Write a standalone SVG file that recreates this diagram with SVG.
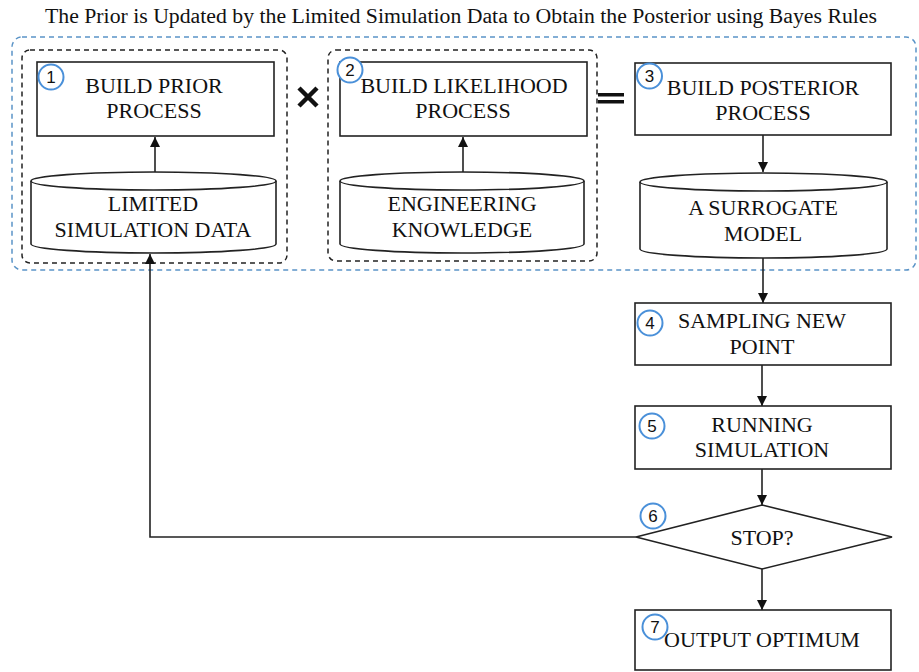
<svg xmlns="http://www.w3.org/2000/svg" width="919" height="672" viewBox="0 0 919 672">
  <style>
    .t { font-family: "Liberation Serif", "Times New Roman", serif; font-size: 22px; fill: #111; text-anchor: middle; }
    .title { font-family: "Liberation Serif", "Times New Roman", serif; font-size: 20px; fill: #111; text-anchor: middle; }
    .box { fill: #fff; stroke: #222; stroke-width: 1.6; }
    .num { fill: #fff; stroke: #4a90d9; stroke-width: 2; }
    .numt { font-family: "Liberation Sans", Arial, sans-serif; font-size: 17px; fill: #111; text-anchor: middle; }
    .grp { fill: none; stroke: #222; stroke-width: 1.5; stroke-dasharray: 5 4; }
    .outer { fill: none; stroke: #5b94c7; stroke-width: 1.5; stroke-dasharray: 5 4; }
    .edge { fill: none; stroke: #222; stroke-width: 1.6; }
  </style>
  <defs>
    <marker id="arr" viewBox="0 0 10 10" refX="10" refY="5" markerWidth="10" markerHeight="10" markerUnits="userSpaceOnUse" orient="auto">
      <path d="M0,0 L10,5 L0,10 z" fill="#111"/>
    </marker>
  </defs>

  <rect width="919" height="672" fill="#fff"/>

  <text class="title" x="461" y="23" textLength="832" lengthAdjust="spacingAndGlyphs">The Prior is Updated by the Limited Simulation Data to Obtain the Posterior using Bayes Rules</text>

  <!-- grouping frames -->
  <g id="frames">
    <rect class="outer" x="12" y="37" width="904" height="233" rx="10"/>
    <rect class="grp" x="22" y="50" width="265" height="213" rx="8"/>
    <rect class="grp" x="328" y="50" width="269" height="211" rx="8"/>
  </g>

  <!-- operators: product and equality -->
  <g id="times">
    <path d="M299,88 L317,106 M317,88 L299,106" stroke="#111" stroke-width="4.5" stroke-linecap="butt" fill="none"/>
  </g>
  <g id="equals">
    <rect x="598" y="93" width="26" height="3.5" fill="#111"/>
    <rect x="598" y="100" width="26" height="3.5" fill="#111"/>
  </g>

  <!-- connectors -->
  <g id="connectors">
    <line class="edge" x1="155" y1="172" x2="155" y2="137" marker-end="url(#arr)"/>
    <line class="edge" x1="463" y1="172" x2="463" y2="137" marker-end="url(#arr)"/>
    <line class="edge" x1="763" y1="135" x2="763" y2="172" marker-end="url(#arr)"/>
    <line class="edge" x1="763" y1="258" x2="763" y2="303" marker-end="url(#arr)"/>
    <line class="edge" x1="762" y1="365" x2="762" y2="406" marker-end="url(#arr)"/>
    <line class="edge" x1="762" y1="469" x2="762" y2="505" marker-end="url(#arr)"/>
    <line class="edge" x1="762" y1="569" x2="762" y2="610" marker-end="url(#arr)"/>
    <polyline class="edge" points="636,537 150,537 150,254" marker-end="url(#arr)"/>
  </g>

  <!-- 1 -->
  <g id="build-prior">
    <rect class="box" x="37" y="62" width="237" height="74"/>
    <text class="t" x="154" y="93">BUILD PRIOR</text>
    <text class="t" x="154" y="118">PROCESS</text>
    <circle class="num" cx="51" cy="77" r="12.5"/>
    <text class="numt" x="51" y="83">1</text>
  </g>

  <g id="limited-data">
    <path class="box" d="M31,181 A122.5,9 0 0 1 276,181 L276,244 A122.5,9 0 0 1 31,244 Z"/>
    <path class="edge" d="M31,181 A122.5,9 0 0 0 276,181"/>
    <text class="t" x="153" y="211">LIMITED</text>
    <text class="t" x="153" y="237">SIMULATION DATA</text>
  </g>

  <!-- 2 -->
  <g id="build-likelihood">
    <rect class="box" x="340" y="62" width="247" height="74"/>
    <text class="t" x="464" y="93">BUILD LIKELIHOOD</text>
    <text class="t" x="463" y="118">PROCESS</text>
    <circle class="num" cx="350" cy="70" r="12.5"/>
    <text class="numt" x="350" y="76">2</text>
  </g>

  <g id="engineering-knowledge">
    <path class="box" d="M340,181 A122,9 0 0 1 584,181 L584,244 A122,9 0 0 1 340,244 Z"/>
    <path class="edge" d="M340,181 A122,9 0 0 0 584,181"/>
    <text class="t" x="462" y="211">ENGINEERING</text>
    <text class="t" x="462" y="237">KNOWLEDGE</text>
  </g>

  <!-- 3 -->
  <g id="build-posterior">
    <rect class="box" x="635" y="63" width="256" height="72"/>
    <text class="t" x="763" y="95">BUILD POSTERIOR</text>
    <text class="t" x="763" y="120">PROCESS</text>
    <circle class="num" cx="649.5" cy="76" r="12.5"/>
    <text class="numt" x="649.5" y="82">3</text>
  </g>

  <g id="surrogate-model">
    <path class="box" d="M640,182 A123.5,9 0 0 1 887,182 L887,249 A123.5,9 0 0 1 640,249 Z"/>
    <path class="edge" d="M640,182 A123.5,9 0 0 0 887,182"/>
    <text class="t" x="763" y="215">A SURROGATE</text>
    <text class="t" x="763" y="241">MODEL</text>
  </g>

  <!-- 4 -->
  <g id="sampling">
    <rect class="box" x="635" y="303" width="256" height="62"/>
    <text class="t" x="762" y="328">SAMPLING NEW</text>
    <text class="t" x="762" y="354">POINT</text>
    <circle class="num" cx="650" cy="323" r="12.5"/>
    <text class="numt" x="650" y="329">4</text>
  </g>

  <!-- 5 -->
  <g id="running">
    <rect class="box" x="635" y="406" width="256" height="63"/>
    <text class="t" x="762" y="432">RUNNING</text>
    <text class="t" x="762" y="457">SIMULATION</text>
    <circle class="num" cx="652" cy="426" r="12.5"/>
    <text class="numt" x="652" y="432">5</text>
  </g>

  <!-- 6 -->
  <g id="stop">
    <polygon class="box" points="762,505 892,537 762,569 636,537"/>
    <text class="t" x="762" y="545">STOP?</text>
    <circle class="num" cx="653" cy="516" r="12.5"/>
    <text class="numt" x="653" y="522">6</text>
  </g>

  <!-- 7 -->
  <g id="output">
    <rect class="box" x="635" y="610" width="256" height="60"/>
    <text class="t" x="762" y="647">OUTPUT OPTIMUM</text>
    <circle class="num" cx="655" cy="627" r="12.5"/>
    <text class="numt" x="655" y="633">7</text>
  </g>
</svg>
